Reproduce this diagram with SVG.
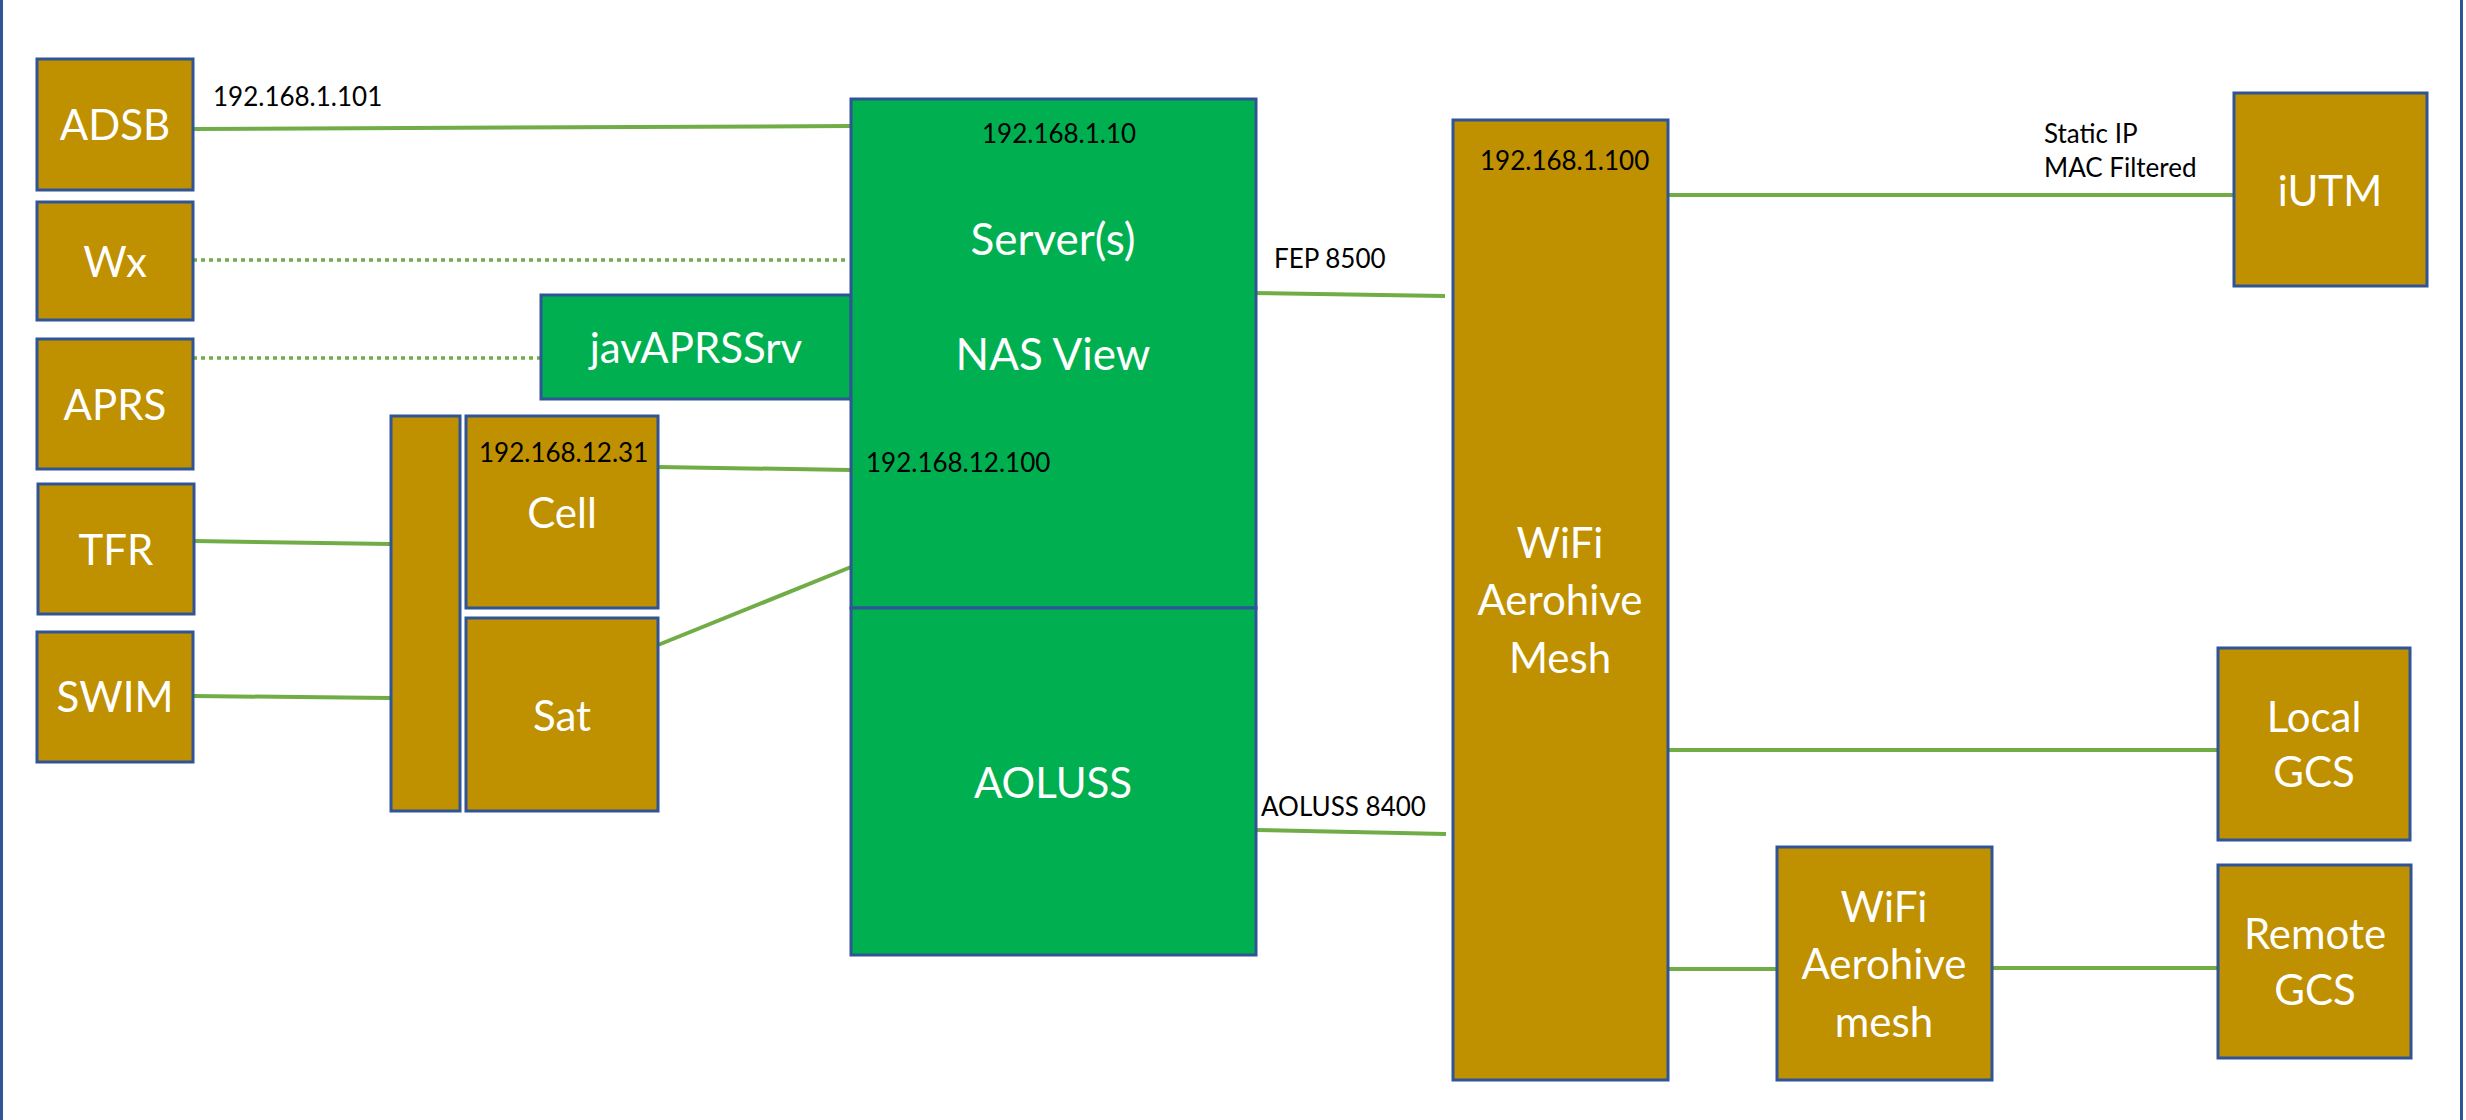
<svg xmlns="http://www.w3.org/2000/svg" width="2466" height="1120" viewBox="0 0 2466 1120">
<style>
.gold{fill:#BF9000;stroke:#2F5597;stroke-width:3}
.green{fill:#00B050;stroke:#2F5597;stroke-width:3}
.big{font-family:Lato,"Open Sans",sans-serif;font-size:42px;fill:#fff;text-anchor:middle}
.bigger{font-family:Lato,"Open Sans",sans-serif;font-size:44px;fill:#fff;text-anchor:middle}
.lbl{font-family:Lato,"Open Sans",sans-serif;font-size:26px;fill:#000}
.ln{stroke:#70AD47;stroke-width:4;fill:none}
.dot{stroke:#70AD47;stroke-width:3.5;fill:none;stroke-dasharray:4 4}
.frame{stroke:#2F5597;stroke-width:3}
</style>
<rect x="0" y="0" width="2466" height="1120" fill="#fff"/>
<line class="frame" x1="1.5" y1="0" x2="1.5" y2="1120"/>
<line class="frame" x1="2461.5" y1="0" x2="2461.5" y2="1120"/>

<g id="connectors">
<line class="ln" x1="193" y1="129" x2="851" y2="126"/>
<line class="dot" x1="193" y1="260" x2="847" y2="260"/>
<line class="dot" x1="193" y1="358" x2="541" y2="358"/>
<line class="ln" x1="194" y1="541" x2="390" y2="544"/>
<line class="ln" x1="194" y1="696" x2="390" y2="698"/>
<line class="ln" x1="658" y1="467" x2="851" y2="470"/>
<line class="ln" x1="658" y1="645" x2="851" y2="567"/>
<line class="ln" x1="1249" y1="293" x2="1445" y2="296"/>
<line class="ln" x1="1256" y1="830" x2="1446" y2="834"/>
<line class="ln" x1="1668" y1="195" x2="2234" y2="195"/>
<line class="ln" x1="1660" y1="750" x2="2224" y2="750"/>
<line class="ln" x1="1668" y1="969" x2="1776" y2="969"/>
<line class="ln" x1="1992" y1="968" x2="2224" y2="968"/>
<text class="lbl" x="213" y="106">192.168.1.101</text>
<text class="lbl" x="1274" y="268">FEP 8500</text>
<text class="lbl" x="1261" y="816">AOLUSS 8400</text>
<text class="lbl" x="2044" y="143">Static IP</text>
<text class="lbl" x="2044" y="177">MAC Filtered</text>
</g>

<g id="adsb"><rect class="gold" x="37" y="59" width="156" height="131"/><text class="big" x="115" y="140">ADSB</text></g>
<g id="wx"><rect class="gold" x="37" y="202" width="156" height="118"/><text class="big" x="115" y="277">Wx</text></g>
<g id="aprs"><rect class="gold" x="37" y="339" width="156" height="130"/><text class="big" x="115" y="420">APRS</text></g>
<g id="tfr"><rect class="gold" x="38" y="484" width="156" height="130"/><text class="big" x="116" y="565">TFR</text></g>
<g id="swim"><rect class="gold" x="37" y="632" width="156" height="130"/><text class="big" x="115" y="712">SWIM</text></g>
<g id="bus"><rect class="gold" x="391" y="416" width="69" height="395"/></g>
<g id="cell"><rect class="gold" x="466" y="416" width="192" height="192"/><text class="lbl" x="479" y="462">192.168.12.31</text><text class="big" x="562" y="528">Cell</text></g>
<g id="sat"><rect class="gold" x="466" y="618" width="192" height="193"/><text class="big" x="562" y="731">Sat</text></g>
<g id="javaprssrv"><rect class="green" x="541" y="295" width="310" height="104"/><text class="big" x="696" y="363">javAPRSSrv</text></g>
<g id="server"><rect class="green" x="851" y="99" width="405" height="509"/>
<text class="lbl" x="982" y="143">192.168.1.10</text>
<text class="bigger" x="1053" y="255">Server(s)</text>
<text class="bigger" x="1053" y="370">NAS View</text>
<text class="lbl" x="866" y="472">192.168.12.100</text></g>
<g id="aoluss"><rect class="green" x="851" y="608" width="405" height="347"/><text class="big" x="1053" y="798">AOLUSS</text></g>
<g id="mesh"><rect class="gold" x="1453" y="120" width="215" height="960"/>
<text class="lbl" x="1480" y="170">192.168.1.100</text>
<text class="big" x="1560" y="558">WiFi</text><text class="big" x="1560" y="615">Aerohive</text><text class="big" x="1560" y="673">Mesh</text></g>
<g id="iutm"><rect class="gold" x="2234" y="93" width="193" height="193"/><text class="big" x="2330" y="206">iUTM</text></g>
<g id="localgcs"><rect class="gold" x="2218" y="648" width="192" height="192"/><text class="big" x="2314" y="732">Local</text><text class="big" x="2314" y="787">GCS</text></g>
<g id="smallmesh"><rect class="gold" x="1777" y="847" width="215" height="233"/><text class="big" x="1884" y="922">WiFi</text><text class="big" x="1884" y="979">Aerohive</text><text class="big" x="1884" y="1037">mesh</text></g>
<g id="remotegcs"><rect class="gold" x="2218" y="865" width="193" height="193"/><text class="big" x="2315" y="949">Remote</text><text class="big" x="2315" y="1005">GCS</text></g>
</svg>
